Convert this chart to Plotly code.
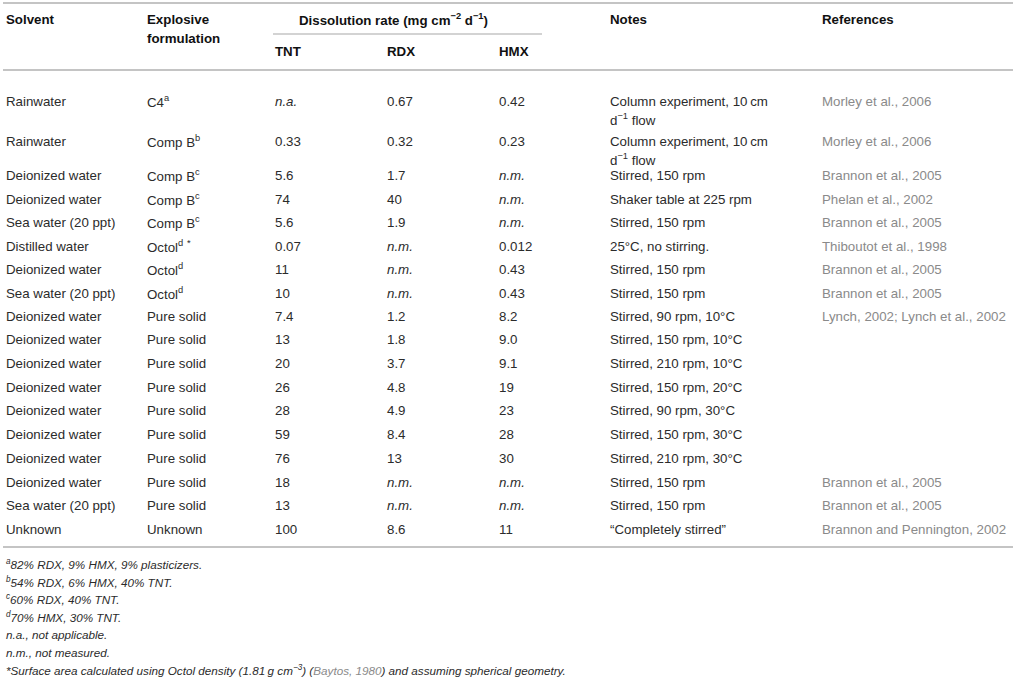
import plotly.graph_objects as go

W, H = 1016, 679

solvent = ["Rainwater", "Rainwater", "Deionized water", "Deionized water", "Sea water (20 ppt)",
           "Distilled water", "Deionized water", "Sea water (20 ppt)", "Deionized water",
           "Deionized water", "Deionized water", "Deionized water", "Deionized water",
           "Deionized water", "Deionized water", "Deionized water", "Sea water (20 ppt)", "Unknown"]
formulation = ["C4<sup>a</sup>", "Comp B<sup>b</sup>", "Comp B<sup>c</sup>", "Comp B<sup>c</sup>",
               "Comp B<sup>c</sup>", "Octol<sup>d</sup> <sup>*</sup>", "Octol<sup>d</sup>", "Octol<sup>d</sup>",
               "Pure solid", "Pure solid", "Pure solid", "Pure solid", "Pure solid", "Pure solid",
               "Pure solid", "Pure solid", "Pure solid", "Unknown"]
tnt = ["<i>n.a.</i>", "0.33", "5.6", "74", "5.6", "0.07", "11", "10", "7.4", "13", "20", "26",
       "28", "59", "76", "18", "13", "100"]
rdx = ["0.67", "0.32", "1.7", "40", "1.9", "<i>n.m.</i>", "<i>n.m.</i>", "<i>n.m.</i>", "1.2", "1.8",
       "3.7", "4.8", "4.9", "8.4", "13", "<i>n.m.</i>", "<i>n.m.</i>", "8.6"]
hmx = ["0.42", "0.23", "<i>n.m.</i>", "<i>n.m.</i>", "<i>n.m.</i>", "0.012", "0.43", "0.43", "8.2",
       "9.0", "9.1", "19", "23", "28", "30", "<i>n.m.</i>", "<i>n.m.</i>", "11"]
notes = ["Column experiment, 10\u2009cm<br>d<sup>\u22121</sup> flow",
         "Column experiment, 10\u2009cm<br>d<sup>\u22121</sup> flow",
         "Stirred, 150 rpm", "Shaker table at 225 rpm", "Stirred, 150 rpm", "25\u00b0C, no stirring.",
         "Stirred, 150 rpm", "Stirred, 150 rpm", "Stirred, 90 rpm, 10\u00b0C", "Stirred, 150 rpm, 10\u00b0C",
         "Stirred, 210 rpm, 10\u00b0C", "Stirred, 150 rpm, 20\u00b0C", "Stirred, 90 rpm, 30\u00b0C",
         "Stirred, 150 rpm, 30\u00b0C", "Stirred, 210 rpm, 30\u00b0C", "Stirred, 150 rpm",
         "Stirred, 150 rpm", "\u201cCompletely stirred\u201d"]
references = ["Morley et al., 2006", "Morley et al., 2006", "Brannon et al., 2005", "Phelan et al., 2002",
              "Brannon et al., 2005", "Thiboutot et al., 1998", "Brannon et al., 2005",
              "Brannon et al., 2005", "Lynch, 2002; Lynch et al., 2002", "", "", "", "", "", "",
              "Brannon et al., 2005", "Brannon et al., 2005", "Brannon and Pennington, 2002"]

headers = ["Solvent", "Explosive<br>formulation", "TNT", "RDX", "HMX", "Notes", "References"]
group_header = "Dissolution rate (mg cm<sup>\u22122</sup> d<sup>\u22121</sup>)"

footnotes = ["<sup>a</sup>82% RDX, 9% HMX, 9% plasticizers.",
             "<sup>b</sup>54% RDX, 6% HMX, 40% TNT.",
             "<sup>c</sup>60% RDX, 40% TNT.",
             "<sup>d</sup>70% HMX, 30% TNT.",
             "n.a., not applicable.",
             "n.m., not measured.",
             "*Surface area calculated using Octol density (1.81\u2009g cm<sup>\u22123</sup>) "
             "(<span style='color:#8a8a8a'>Baytos, 1980</span>) and assuming spherical geometry."]

# layout constants
col_x = [4, 145, 273, 385, 497, 608, 820]
row_y = [101, 141, 175, 199, 222, 246, 269, 293, 316, 339, 363, 387, 410, 434, 458, 482, 505, 529]
line_h = 18
FONT = "Liberation Sans, Arial, sans-serif"
TXT = "#2b2b2b"
REF = "#8a8a8a"
LINE = "#c4c4c4"
FS = 13.3

fig = go.Figure()
ann = []

def add(x, y, text, color=TXT, size=FS, yanchor="middle", xanchor="left"):
    ann.append(dict(x=x, y=y, xref="x", yref="y", text=text, showarrow=False,
                    xanchor=xanchor, yanchor=yanchor, align="left",
                    font=dict(family=FONT, size=size, color=color)))

# headers
add(col_x[0], 19, "<b>Solvent</b>", color="#111")
add(col_x[1], 19, "<b>Explosive</b>", color="#111")
add(col_x[1], 38, "<b>formulation</b>", color="#111")
add(297, 19, "<b>" + group_header + "</b>", color="#111")
for i in (2, 3, 4):
    add(col_x[i], 51, "<b>" + headers[i] + "</b>", color="#111")
add(col_x[5], 19, "<b>Notes</b>", color="#111")
add(col_x[6], 19, "<b>References</b>", color="#111")

cols = [solvent, formulation, tnt, rdx, hmx, notes, references]
for c, data in enumerate(cols):
    for r, txt in enumerate(data):
        if not txt:
            continue
        parts = txt.split("<br>")
        for k, p in enumerate(parts):
            add(col_x[c], row_y[r] + k * line_h, p, color=REF if c == 6 else TXT)

for k, f in enumerate(footnotes):
    add(4, 564 + k * 17.6, "<i>" + f + "</i>", size=11.7)

shapes = [
    dict(type="line", xref="x", yref="y", x0=3, x1=1013, y0=3, y1=3, line=dict(color=LINE, width=2)),
    dict(type="line", xref="x", yref="y", x0=273, x1=542, y0=34, y1=34, line=dict(color=LINE, width=1.5)),
    dict(type="line", xref="x", yref="y", x0=3, x1=1013, y0=70, y1=70, line=dict(color=LINE, width=2)),
    dict(type="line", xref="x", yref="y", x0=3, x1=1013, y0=547, y1=547, line=dict(color=LINE, width=2)),
]

fig.update_layout(
    width=W, height=H, margin=dict(l=0, r=0, t=0, b=0),
    paper_bgcolor="white", plot_bgcolor="white",
    xaxis=dict(range=[0, W], visible=False, fixedrange=True),
    yaxis=dict(range=[H, 0], visible=False, fixedrange=True),
    annotations=ann, shapes=shapes, showlegend=False,
)
fig.write_html("out.html", config={"displayModeBar": False},
               post_script="document.body.style.margin='0';document.body.style.overflow='hidden';")
